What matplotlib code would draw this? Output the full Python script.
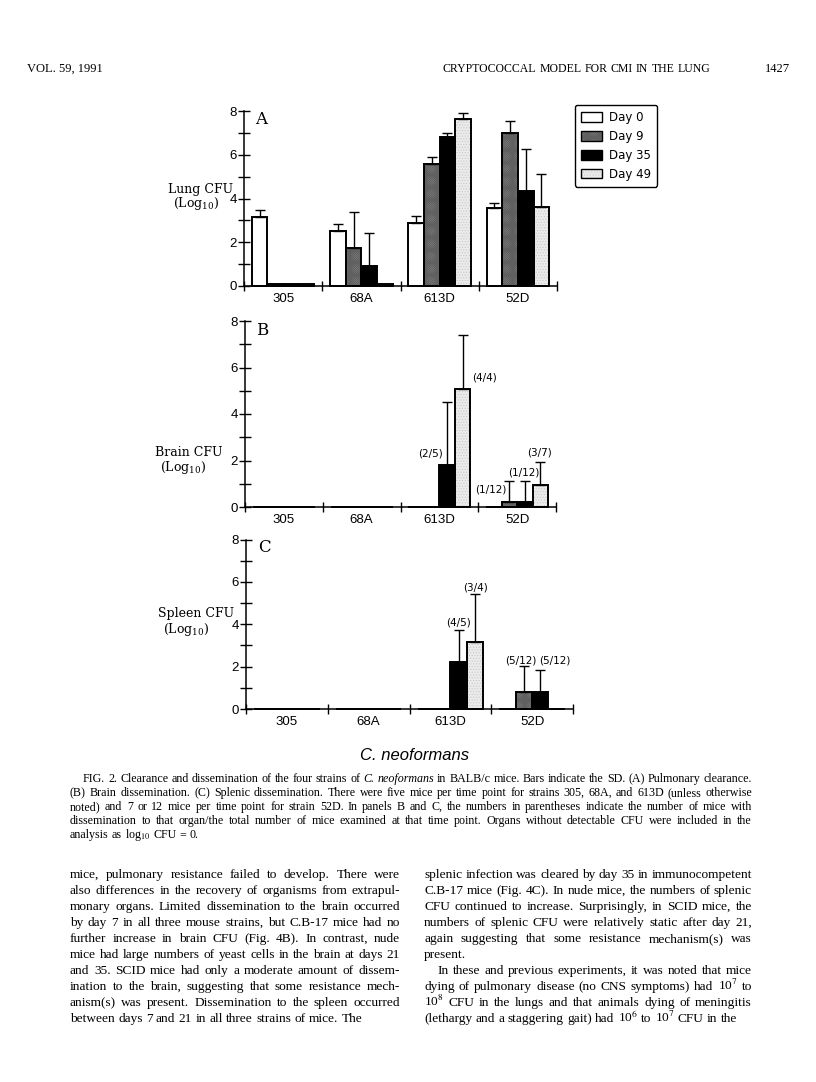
import matplotlib
matplotlib.use('Agg')
import matplotlib.pyplot as plt
import numpy as np
from matplotlib.patches import Patch

plt.rcParams['font.family'] = 'Liberation Sans'
plt.rcParams['hatch.linewidth'] = 0.5

W, H = 816, 1082
SERIF = 'Liberation Serif'

# ---- data ----
strains = ['305', '68A', '613D', '52D']
days = ['Day 0', 'Day 9', 'Day 35', 'Day 49']

# one row per day, one value per strain (log10 CFU)
lung = [[3.15, 2.50, 2.88, 3.57],
        [0.08, 1.76, 5.60, 6.99],
        [0.08, 0.90, 6.80, 4.36],
        [0.08, 0.08, 7.62, 3.62]]
lung_sd = [[0.32, 0.33, 0.34, 0.24],
           [0, 1.64, 0.30, 0.56],
           [0, 1.52, 0.20, 1.92],
           [0, 0, 0.28, 1.48]]

brain = [[0, 0, 0, 0],
         [0, 0, 0, 0.20],
         [0, 0, 1.82, 0.20],
         [0, 0, 5.08, 0.93]]
brain_sd = [[0, 0, 0, 0],
            [0, 0, 0, 0.90],
            [0, 0, 2.70, 0.90],
            [0, 0, 2.30, 1.02]]

spleen = [[0, 0, 0, 0],
          [0, 0, 0, 0.78],
          [0, 0, 2.20, 0.78],
          [0, 0, 3.18, 0]]
spleen_sd = [[0, 0, 0, 0],
             [0, 0, 0, 1.24],
             [0, 0, 1.53, 1.08],
             [0, 0, 2.25, 0]]

brain_notes = ['(2/5)', '(4/4)', '(1/12)', '(1/12)', '(3/7)']
spleen_notes = ['(4/5)', '(3/4)', '(5/12)', '(5/12)']

header_left = 'VOL. 59, 1991'
header_mid = 'CRYPTOCOCCAL MODEL FOR CMI IN THE LUNG'
header_page = '1427'

caption = [
    'FIG. 2. Clearance and dissemination of the four strains of *C. neoformans* in BALB/c mice. Bars indicate the SD. (A) Pulmonary clearance.',
    '(B) Brain dissemination. (C) Splenic dissemination. There were five mice per time point for strains 305, 68A, and 613D (unless otherwise',
    'noted) and 7 or 12 mice per time point for strain 52D. In panels B and C, the numbers in parentheses indicate the number of mice with',
    'dissemination to that organ/the total number of mice examined at that time point. Organs without detectable CFU were included in the',
    'analysis as log$_{10}$ CFU = 0.',
]

col_left = [
    'mice, pulmonary resistance failed to develop. There were',
    'also differences in the recovery of organisms from extrapul-',
    'monary organs. Limited dissemination to the brain occurred',
    'by day 7 in all three mouse strains, but C.B-17 mice had no',
    'further increase in brain CFU (Fig. 4B). In contrast, nude',
    'mice had large numbers of yeast cells in the brain at days 21',
    'and 35. SCID mice had only a moderate amount of dissem-',
    'ination to the brain, suggesting that some resistance mech-',
    'anism(s) was present. Dissemination to the spleen occurred',
    'between days 7 and 21 in all three strains of mice. The',
]
col_right = [
    'splenic infection was cleared by day 35 in immunocompetent',
    'C.B-17 mice (Fig. 4C). In nude mice, the numbers of splenic',
    'CFU continued to increase. Surprisingly, in SCID mice, the',
    'numbers of splenic CFU were relatively static after day 21,',
    'again suggesting that some resistance mechanism(s) was',
    'present.',
    'In these and previous experiments, it was noted that mice',
    'dying of pulmonary disease (no CNS symptoms) had 10$^7$ to',
    '10$^8$ CFU in the lungs and that animals dying of meningitis',
    '(lethargy and a staggering gait) had 10$^6$ to 10$^7$ CFU in the',
]

# ---- styles ----
offsets = [-0.3, -0.1, 0.1, 0.3]
faces = ['white', '#a4a4a4', 'black', '#ebebeb']
hatches = [None, 'x' * 18, None, '.' * 6]
hatch_cols = ['white', '#606060', 'black', '#c8c8c8']

fig = plt.figure(figsize=(W / 100, H / 100), dpi=100)
renderer = fig.canvas.get_renderer()


def fy(y):
    return 1 - y / H


def make_axes(x0, x1, y0, ytop):
    ax = fig.add_axes([x0 / W, fy(y0), (x1 - x0) / W, (y0 - ytop) / H])
    ax.patch.set_alpha(0)
    ax.set_xlim(-0.5, 3.5)
    ax.set_ylim(0, 8)
    for s in ['top', 'right']:
        ax.spines[s].set_visible(False)
    for s in ['left', 'bottom']:
        ax.spines[s].set_linewidth(1.1)
    ax.set_yticks([0, 2, 4, 6, 8])
    ax.set_yticks([1, 3, 5, 7], minor=True)
    ax.tick_params(axis='y', which='both', direction='inout', length=8, width=1, labelsize=9.5, pad=1)
    ax.set_xticks([-0.5, 0.5, 1.5, 2.5, 3.5])
    ax.set_xticklabels([])
    ax.set_xticks(range(4), strains, minor=True)
    ax.tick_params(axis='x', which='major', direction='inout', length=7, width=1)
    ax.tick_params(axis='x', which='minor', length=0, labelsize=9.5, pad=5)
    return ax


def draw_bars(ax, means, sds):
    x = np.arange(4)
    for d in range(4):
        xs = x + offsets[d]
        m = np.array(means[d], dtype=float)
        sd = np.array(sds[d], dtype=float)
        ax.bar(xs, m, 0.2, color=faces[d], edgecolor=hatch_cols[d], hatch=hatches[d],
               linewidth=0, zorder=2)
        ax.bar(xs, m, 0.2, fill=False, edgecolor='black', linewidth=1.4, zorder=3, clip_on=False)
        k = sd > 0
        if k.any():
            ax.errorbar(xs[k], m[k], yerr=[np.zeros(k.sum()), sd[k]], fmt='none', ecolor='black',
                        elinewidth=1, capsize=3.5, capthick=1, zorder=4)


axA = make_axes(244, 557, 286, 111)
draw_bars(axA, lung, lung_sd)
axB = make_axes(245, 556, 507, 321)
draw_bars(axB, brain, brain_sd)
axC = make_axes(246, 573, 709, 539.5)
draw_bars(axC, spleen, spleen_sd)

# panel letters
for ax, letter in [(axA, 'A'), (axB, 'B'), (axC, 'C')]:
    ax.text(0.055, 0.95, letter, transform=ax.transAxes, family='DejaVu Serif', fontsize=12,
            ha='center', va='center')

# y labels
for x, y, name in [(168, 189, 'Lung CFU'), (155, 452, 'Brain CFU'), (158, 614, 'Spleen CFU')]:
    fig.text(x / W, fy(y), name, family='DejaVu Serif', fontsize=9, ha='left', va='center')
    fig.text((x + 5) / W, fy(y + 15), '(Log$_{10}$)', family='DejaVu Serif', fontsize=9,
             math_fontfamily='dejavuserif', ha='left', va='center')

# notes in parentheses (number of mice with dissemination)
note_font = dict(family='DejaVu Sans', fontsize=7.5, ha='center', va='center')
for s, (x, y) in zip(brain_notes, [(1.886, 2.28), (2.574, 5.59), (2.664, 0.77), (3.082, 1.48), (3.294, 2.34)]):
    axB.text(x, y, s, **note_font)
for s, (x, y) in zip(spleen_notes, [(2.10, 4.06), (2.307, 5.75), (2.86, 2.31), (3.28, 2.31)]):
    axC.text(x, y, s, **note_font)

# legend: hatched fill with a black outline laid over it
handles = [(Patch(facecolor=faces[d], edgecolor=hatch_cols[d], hatch=hatches[d], linewidth=0),
            Patch(fill=False, edgecolor='black', linewidth=1)) for d in range(4)]
leg = fig.legend(handles, days, loc='upper left', bbox_to_anchor=(575 / W, fy(105)),
                 frameon=True, fancybox=True, framealpha=1, edgecolor='black',
                 prop={'family': 'DejaVu Sans', 'size': 8.5}, handlelength=1.8, handleheight=0.9,
                 labelspacing=0.5, borderpad=0.5, handletextpad=0.6, borderaxespad=0)
leg.get_frame().set_linewidth(1)


# ---- page text, justified word by word ----
def make_line(line, y, size):
    parts = line.split('*')
    objs = []
    for i, p in enumerate(parts):
        for w in p.split():
            objs.append(fig.text(0, fy(y), w, fontsize=size, fontstyle='italic' if i % 2 else 'normal',
                                 family=SERIF, va='baseline', ha='left', math_fontfamily='stix'))
    return objs


def widths_of(objs):
    return [t.get_window_extent(renderer).width for t in objs]


def put_block(rows, size):
    # rows: (text, x0, x1, baseline y, justify)
    built = [make_line(r[0], r[3], size) for r in rows]
    space = size * 100 / 72 * 0.25
    k = 1.0
    for objs, r in zip(built, rows):
        nat = sum(widths_of(objs)) + space * (len(objs) - 1)
        k = min(k, (r[2] - r[1]) / nat)
    for objs, r in zip(built, rows):
        for t in objs:
            t.set_fontsize(size * k)
        ws = widths_of(objs)
        gap = space * k
        if r[4] and len(objs) > 1:
            gap = (r[2] - r[1] - sum(ws)) / (len(objs) - 1)
        x = r[1]
        for t, w in zip(objs, ws):
            t.set_x(x / W)
            x += w + gap


fig.text(27 / W, fy(72), header_left, family=SERIF, fontsize=9, va='baseline')
put_block([(header_mid, 443, 710, 72, True)], 9.5)
fig.text(790 / W, fy(72), header_page, family=SERIF, fontsize=9, va='baseline', ha='right')

fig.text(415 / W, fy(756), 'C. neoformans', family='Liberation Sans', fontstyle='italic',
         fontsize=12, ha='center', va='center')

put_block([(line, 83 if i == 0 else 70, 752, 782 + 14 * i, i < len(caption) - 1)
           for i, line in enumerate(caption)], 9.5)

body = [(line, 70, 400, 878 + 16 * i, i < len(col_left) - 1) for i, line in enumerate(col_left)]
body += [(line, 437 if i == 6 else 424, 752, 878 + 16 * i, i not in (5, len(col_right) - 1))
         for i, line in enumerate(col_right)]
put_block(body, 11)

fig.savefig('out.png', dpi=100)
